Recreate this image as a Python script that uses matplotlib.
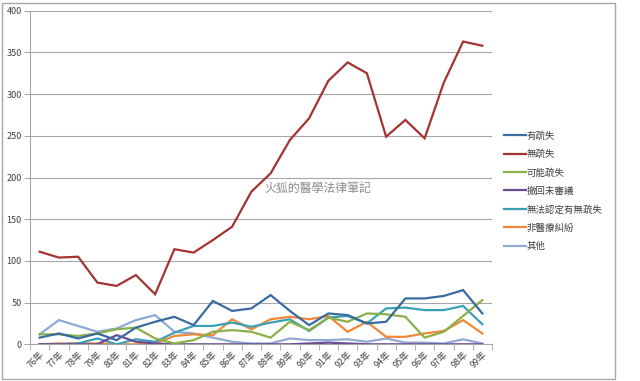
import matplotlib
matplotlib.use("Agg")
import matplotlib.pyplot as plt
from matplotlib.patches import Rectangle

plt.rcParams['font.family'] = ['Noto Sans CJK TC', 'DejaVu Sans']

years = [f"{y}年" for y in range(76, 100)]
series_names = ["有疏失", "無疏失", "可能疏失", "撤回未審議", "無法認定有無疏失", "非醫療糾紛", "其他"]
you_shushi = [8, 13, 7, 13, 5, 20, 27, 33, 23, 52, 40, 43, 59, 40, 23, 37, 35, 25, 27, 55, 55, 58, 65, 37]
wu_shushi = [111, 104, 105, 74, 70, 83, 60, 114, 110, 125, 141, 183, 205, 245, 271, 316, 338, 325, 249, 269, 247, 314, 363, 358]
keneng = [12, 12, 10, 13, 18, 20, 7, 1, 5, 15, 17, 15, 8, 27, 17, 32, 27, 37, 36, 33, 8, 15, 34, 53]
chehui = [0, 0, 0, 0, 11, 3, 1, 0, 0, 0, 0, 0, 0, 0, 1, 2, 1, 0, 0, 0, 0, 0, 0, 0]
wufa = [0, 0, 1, 7, 0, 6, 3, 14, 22, 22, 26, 21, 26, 30, 16, 32, 34, 25, 43, 44, 41, 41, 46, 24]
fei_yiliao = [0, 1, 1, 1, 0, 0, 1, 10, 12, 11, 30, 18, 30, 33, 30, 34, 15, 27, 9, 9, 13, 16, 29, 13]
qita = [12, 29, 22, 15, 19, 29, 35, 15, 13, 8, 3, 1, 1, 7, 5, 5, 6, 3, 7, 2, 2, 1, 6, 1]

all_series = [you_shushi, wu_shushi, keneng, chehui, wufa, fei_yiliao, qita]
colors = ["#386BA0", "#A33432", "#8AB04A", "#6A4C93", "#3AA0B5", "#F0883A", "#8EA9D3"]
yticks = [0, 50, 100, 150, 200, 250, 300, 350, 400]

fig = plt.figure(figsize=(6.4, 3.81), dpi=100)
ax = fig.add_axes([30 / 640, 1 - 344.3 / 381, (492 - 30) / 640, (344.3 - 10.7) / 381])

x = list(range(len(years)))
# draw order: lower series first so that main series are on top similar to Excel
order = [6, 5, 4, 3, 2, 1, 0]
lines = {}
for i in order:
    ln, = ax.plot(x, all_series[i], color=colors[i], lw=1.6, solid_joinstyle='miter', zorder=3 + (6 - i) * 0.1)
    lines[i] = ln

ax.set_xlim(-0.5, len(years) - 0.5)
ax.set_ylim(0, 400)
ax.set_yticks(yticks)
ax.set_yticklabels([str(v) for v in yticks], fontsize=6.5, color="#404040")
ax.yaxis.grid(True, color="#A6A6A6", lw=0.8)
ax.set_axisbelow(True)

ax.set_xticks(x)
ax.set_xticklabels(years, rotation=45, ha='right', va='top', rotation_mode='anchor', fontsize=6.5, color="#404040")
ax.set_xticks([v - 0.5 for v in range(len(years) + 1)], minor=True)
ax.tick_params(axis='x', which='major', length=0, pad=4)
ax.tick_params(axis='x', which='minor', length=4, color="#A6A6A6", direction='out')
ax.tick_params(axis='y', length=4, color="#A6A6A6", pad=2)

for s in ['top', 'right']:
    ax.spines[s].set_visible(False)
for s in ['left', 'bottom']:
    ax.spines[s].set_color("#A6A6A6")
    ax.spines[s].set_linewidth(0.8)

# legend
handles = [lines[i] for i in range(7)]
leg = fig.legend(handles, series_names, loc='upper left', bbox_to_anchor=(500 / 640, 1 - 127 / 381),
                 frameon=False, fontsize=6.8, handlelength=2.3, handletextpad=0.1,
                 labelspacing=0.95, borderaxespad=0)
for t in leg.get_texts():
    t.set_color("#404040")

# watermark
fig.text(318 / 640, 1 - 188 / 381, "火狐的醫學法律筆記", fontsize=8.6, color="#8C8C8C",
         ha='center', va='center')

# outer chart border
fig.patches.append(Rectangle((2 / 640, 2 / 381), 613 / 640, 376 / 381, transform=fig.transFigure,
                             fill=False, edgecolor="#A6A6A6", lw=1.0))

fig.savefig("out.png", dpi=100)
